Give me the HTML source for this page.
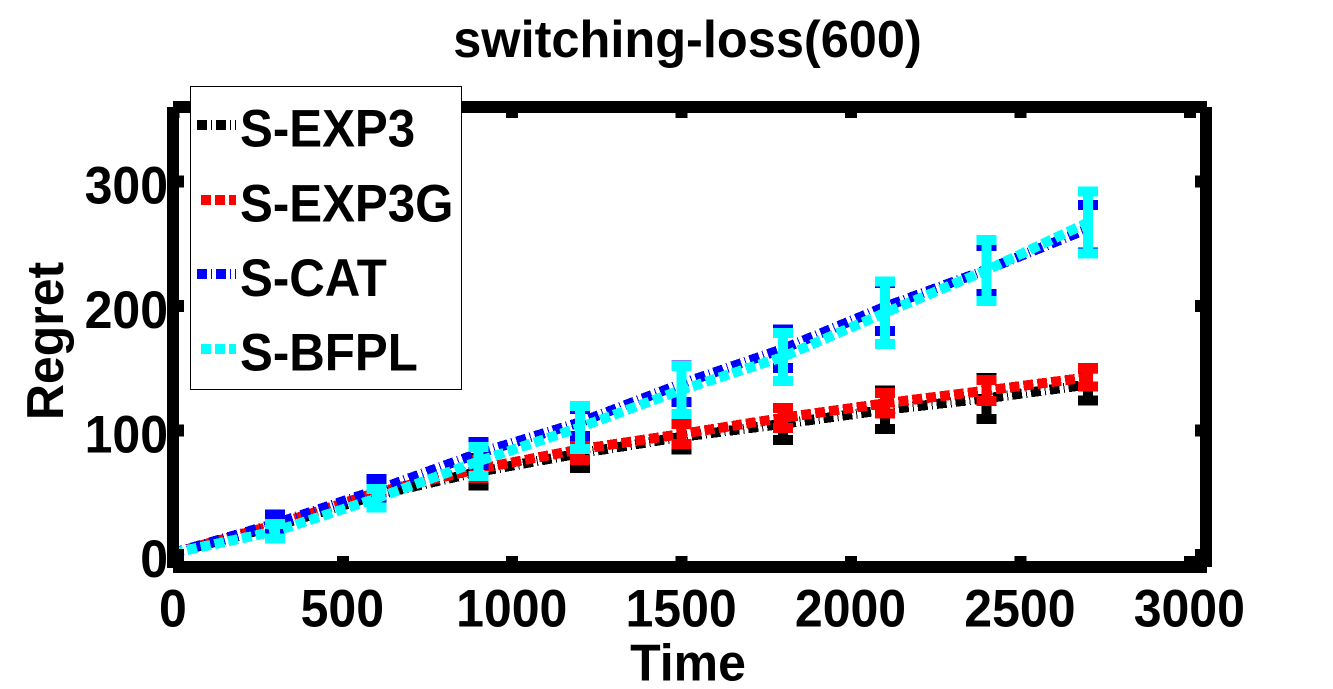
<!DOCTYPE html>
<html lang="en">
<head>
<meta charset="utf-8">
<title>switching-loss(600)</title>
<style>
html,body{margin:0;padding:0;background:#fff;width:1333px;height:689px;overflow:hidden}
svg{display:block}
text{font-family:"Liberation Sans",Arial,sans-serif;font-weight:700;font-size:50px;fill:#000}
.crisp{shape-rendering:crispEdges}
</style>
</head>
<body>
<svg id="chart" xmlns="http://www.w3.org/2000/svg" width="1333" height="689" viewBox="0 0 1333 689">
  <rect x="0" y="0" width="1333" height="689" fill="#fff"/>
  <text transform="translate(687.5,57) scale(1.01,1.04)" text-anchor="middle">switching-loss(600)</text>
  <g id="series-layer" class="crisp"></g>
  <g id="axes-layer" class="crisp">
    <rect x="173" y="101" width="1034" height="12" fill="#000"/>
    <rect x="173" y="561" width="1034" height="12" fill="#000"/>
    <rect x="167" y="107" width="12" height="461" fill="#000"/>
    <rect x="1200" y="107" width="12" height="460" fill="#000"/>
  </g>
  <g id="tick-layer"></g>
  <text transform="translate(688,680.5) scale(1,1.04)" text-anchor="middle">Time</text>
  <text transform="translate(63,341) rotate(-90) scale(1,1.04)" text-anchor="middle">Regret</text>
  <g>
    <rect class="crisp" x="190.5" y="86.5" width="271" height="303" fill="#fff" stroke="#000" stroke-width="1"/>
    <g>
      <line class="crisp" x1="197" y1="125" x2="236" y2="125" stroke="#000" stroke-width="10" stroke-dasharray="10 4 1 4"/>
      <text transform="translate(240,146.7) scale(0.985,1.05)">S-EXP3</text>
    </g>
    <g>
      <line class="crisp" x1="201" y1="200" x2="236" y2="200" stroke="#f00" stroke-width="10" stroke-dasharray="10 4"/>
      <text transform="translate(240,221.7) scale(0.985,1.05)">S-EXP3G</text>
    </g>
    <g>
      <line class="crisp" x1="197" y1="274" x2="236" y2="274" stroke="#00f" stroke-width="10" stroke-dasharray="10 4 1 4"/>
      <text transform="translate(240,296) scale(0.985,1.05)">S-CAT</text>
    </g>
    <g>
      <line class="crisp" x1="201" y1="349" x2="236" y2="349" stroke="#0ff" stroke-width="10" stroke-dasharray="10 4"/>
      <text transform="translate(240,370.7) scale(0.985,1.05)">S-BFPL</text>
    </g>
  </g>
</svg>
<script>
const times = [0, 300, 600, 900, 1200, 1500, 1800, 2100, 2400, 2700];
const expMean = [1.5, 23, 48, 66.7, 81.5, 94.8, 105.2, 116.5, 125.7, 136.8];
const expErr = [0, 3, 5, 11, 11.6, 10.4, 12.9, 15.3, 16.5, 13];
const expgMean = [1.5, 24, 50, 69, 84.7, 97, 110, 121.7, 132, 142.6];
const expgErr = [0, 3, 4, 7.2, 8.4, 8, 8, 8.4, 8.4, 7.6];
const catMean = [1.5, 25, 52, 81.5, 106.4, 137.4, 165.5, 199.2, 228.9, 262];
const catErr = [0, 7.2, 8.8, 9.2, 10.8, 14.5, 15.3, 19.3, 19.3, 19];
const bfplMean = [1.5, 18.9, 45.4, 75, 102.4, 132.5, 159, 194.4, 228.5, 267];
const bfplErr = [0, 6, 7.6, 11.6, 17.3, 19.3, 19.3, 25, 24.5, 25];
const xTickValues = [0, 500, 1000, 1500, 2000, 2500, 3000];
const yTickValues = [0, 100, 200, 300];
const xDomain = [0, 3000];
const yDomain = [0, 300];

const NS = 'http://www.w3.org/2000/svg';
function sx(v) { return 173.4 + (v - xDomain[0]) * (1016.4 / (xDomain[1] - xDomain[0])); }
function sy(v) { return 554.8 - (v - yDomain[0]) * (373.5 / (yDomain[1] - yDomain[0])); }
function make(tag, parent) {
  const el = document.createElementNS(NS, tag);
  parent.appendChild(el);
  return el;
}
function segment(parent, x1, y1, x2, y2, color, width) {
  const el = make('line', parent);
  el.setAttribute('x1', x1);
  el.setAttribute('y1', y1);
  el.setAttribute('x2', x2);
  el.setAttribute('y2', y2);
  el.setAttribute('stroke', color);
  el.setAttribute('stroke-width', width);
  return el;
}
function drawSeries(key, means, errs, color, dash) {
  const layer = document.getElementById('series-layer');
  const group = make('g', layer);
  
  
  const path = make('polyline', group);
  
  
  path.setAttribute('points', times.map((t, i) => sx(t).toFixed(1) + ',' + sy(means[i]).toFixed(1)).join(' '));
  path.setAttribute('fill', 'none');
  path.setAttribute('stroke', color);
  path.setAttribute('stroke-width', 10);
  path.setAttribute('stroke-dasharray', dash);
  times.forEach((t, i) => {
    if (errs[i] <= 0) return;
    const x = sx(t);
    const hi = sy(means[i] + errs[i]);
    const lo = sy(means[i] - errs[i]);
    const bar = make('g', group);
    
    
    segment(bar, x, hi, x, lo, color, 10);
    segment(bar, x - 10, hi, x + 10, hi, color, 10);
    segment(bar, x - 10, lo, x + 10, lo, color, 10);
  });
}
function drawTicks() {
  const layer = document.getElementById('tick-layer');
  xTickValues.forEach(v => {
    const x = sx(v);
    const bottom = segment(layer, x, 567, x, 556, '#000', 12);
    bottom.setAttribute('class', 'crisp');
    
    
    const top = segment(layer, x, 107, x, 118, '#000', 12);
    top.setAttribute('class', 'crisp');
    
    
    const label = make('text', layer);
    
    
    label.setAttribute('text-anchor', 'middle');
    label.setAttribute('transform', 'translate(' + (x - 0.5) + ',626.5) scale(1,1.06)');
    label.textContent = v;
  });
  yTickValues.forEach(v => {
    const y = sy(v);
    const left = segment(layer, 173, y, 184, y, '#000', 12);
    left.setAttribute('class', 'crisp');
    
    
    const right = segment(layer, 1206, y, 1195, y, '#000', 12);
    right.setAttribute('class', 'crisp');
    
    
    const label = make('text', layer);
    
    
    label.setAttribute('text-anchor', 'end');
    label.setAttribute('transform', 'translate(168,' + (y + 22) + ') scale(1,1.06)');
    label.textContent = v;
  });
}
drawSeries('s-exp3', expMean, expErr, '#000', '10 4 1 4');
drawSeries('s-exp3g', expgMean, expgErr, '#f00', '10 4');
drawSeries('s-cat', catMean, catErr, '#00f', '10 4 1 4');
drawSeries('s-bfpl', bfplMean, bfplErr, '#0ff', '10 4');
drawTicks();
</script>
</body>
</html>
